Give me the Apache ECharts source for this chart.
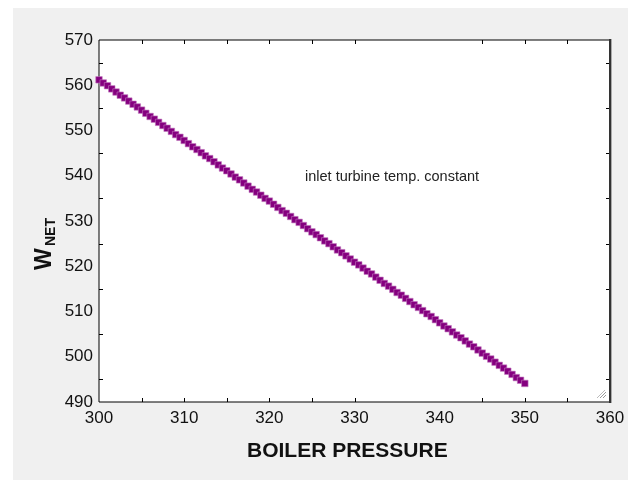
<!DOCTYPE html>
<html>
<head>
<meta charset="utf-8">
<script src="https://cdn.jsdelivr.net/npm/echarts@6/dist/echarts.min.js"></script>
<style>
  html, body { margin: 0; padding: 0; background: #ffffff; }
  #chart { width: 628px; height: 483px; }
</style>
</head>
<body>
<div id="chart"></div>
<script>
// Boiler pressure sweep (x) and net work output (y)
const boilerPressure = [
  300, 300.5, 301, 301.5, 302, 302.5, 303, 303.5, 304, 304.5,
  305, 305.5, 306, 306.5, 307, 307.5, 308, 308.5, 309, 309.5,
  310, 310.5, 311, 311.5, 312, 312.5, 313, 313.5, 314, 314.5,
  315, 315.5, 316, 316.5, 317, 317.5, 318, 318.5, 319, 319.5,
  320, 320.5, 321, 321.5, 322, 322.5, 323, 323.5, 324, 324.5,
  325, 325.5, 326, 326.5, 327, 327.5, 328, 328.5, 329, 329.5,
  330, 330.5, 331, 331.5, 332, 332.5, 333, 333.5, 334, 334.5,
  335, 335.5, 336, 336.5, 337, 337.5, 338, 338.5, 339, 339.5,
  340, 340.5, 341, 341.5, 342, 342.5, 343, 343.5, 344, 344.5,
  345, 345.5, 346, 346.5, 347, 347.5, 348, 348.5, 349, 349.5,
  350
];
const netWork = [
  561.2, 560.5, 559.9, 559.2, 558.5, 557.8, 557.2, 556.5, 555.8, 555.2,
  554.5, 553.8, 553.1, 552.5, 551.8, 551.1, 550.5, 549.8, 549.1, 548.5,
  547.8, 547.1, 546.4, 545.8, 545.1, 544.4, 543.8, 543.1, 542.4, 541.7,
  541.1, 540.4, 539.7, 539.1, 538.4, 537.7, 537.0, 536.4, 535.7, 535.0,
  534.4, 533.7, 533.0, 532.3, 531.7, 531.0, 530.3, 529.7, 529.0, 528.3,
  527.6, 527.0, 526.3, 525.6, 525.0, 524.3, 523.6, 523.0, 522.3, 521.6,
  520.9, 520.3, 519.6, 518.9, 518.3, 517.6, 516.9, 516.2, 515.6, 514.9,
  514.2, 513.6, 512.9, 512.2, 511.5, 510.9, 510.2, 509.5, 508.9, 508.2,
  507.5, 506.8, 506.2, 505.5, 504.8, 504.2, 503.5, 502.8, 502.2, 501.5,
  500.8, 500.1, 499.5, 498.8, 498.1, 497.5, 496.8, 496.1, 495.4, 494.8,
  494.1
];

// Axis ranges and inner tick marks
const xMin = 300, xMax = 360, xStep = 10;
const yMin = 490, yMax = 570, yStep = 10;
const xTickValues = [305, 310, 315, 320, 325, 330, 345, 350, 355];
const yTickValues = [495, 505, 515, 525, 535, 545, 555, 565];

const xAxisTitle = 'BOILER PRESSURE';
const yAxisTitleMain = 'W';
const yAxisTitleSub = 'NET';
const noteText = 'inlet turbine temp. constant';

const FONT = '"Liberation Sans", Arial, sans-serif';
const TICK_LEN = 4;

const chart = echarts.init(document.getElementById('chart'), null, { renderer: 'canvas' });

const points = boilerPressure.map((p, i) => [p, netWork[i]]);

chart.setOption({
  animation: false,
  backgroundColor: '#ffffff',
  graphic: [
    { type: 'rect', z: -10, shape: { x: 13, y: 8, width: 615, height: 472 }, style: { fill: '#f0f0f0' } },
    {
      type: 'text', left: 247, top: 441, z: 10,
      style: { text: xAxisTitle, font: 'bold 21px ' + FONT, fill: '#111' }
    },
    {
      type: 'text', x: 45, y: 270, rotation: Math.PI / 2, z: 10,
      style: { text: yAxisTitleMain, font: 'bold 23px ' + FONT, fill: '#111', textAlign: 'left', textVerticalAlign: 'middle' }
    },
    {
      type: 'text', x: 51, y: 246, rotation: Math.PI / 2, z: 10,
      style: { text: yAxisTitleSub, font: 'bold 14px ' + FONT, fill: '#111', textAlign: 'left', textVerticalAlign: 'middle' }
    },
    {
      type: 'text', left: 305, top: 169, z: 10,
      style: { text: noteText, font: '14.5px ' + FONT, fill: '#222' }
    },
    // heavier right frame edge
    { type: 'rect', z: 20, shape: { x: 609, y: 39, width: 2, height: 364 }, style: { fill: '#333' } },
    { type: 'rect', z: 20, shape: { x: 611, y: 39, width: 1, height: 364 }, style: { fill: '#aaa' } },
    // resize grip in the corner
    { type: 'line', z: 20, shape: { x1: 600, y1: 398, x2: 606, y2: 392 }, style: { stroke: '#999', lineWidth: 1 } },
    { type: 'line', z: 20, shape: { x1: 603, y1: 398, x2: 606, y2: 395 }, style: { stroke: '#999', lineWidth: 1 } },
    { type: 'line', z: 20, shape: { x1: 597, y1: 398, x2: 605, y2: 390 }, style: { stroke: '#bbb', lineWidth: 1 } }
  ],
  grid: {
    left: 99, top: 40, right: 18, bottom: 81,
    show: true, borderColor: '#000', borderWidth: 1, backgroundColor: '#ffffff'
  },
  xAxis: {
    type: 'value', min: xMin, max: xMax, interval: xStep,
    axisLine: { show: false }, axisTick: { show: false }, splitLine: { show: false },
    axisLabel: { color: '#111', fontSize: 17, fontFamily: FONT, margin: 8 }
  },
  yAxis: {
    type: 'value', min: yMin, max: yMax, interval: yStep,
    axisLine: { show: false }, axisTick: { show: false }, splitLine: { show: false },
    axisLabel: { color: '#111', fontSize: 17, fontFamily: FONT, margin: 6 }
  },
  series: [
    {
      type: 'custom',
      silent: true,
      data: xTickValues,
      renderItem: function (params, api) {
        const v = api.value(0);
        const b = api.coord([v, yMin]);
        const t = api.coord([v, yMax]);
        const x = Math.round(b[0]) + 0.5;
        return {
          type: 'group',
          children: [
            { type: 'line', shape: { x1: x, y1: b[1], x2: x, y2: b[1] - TICK_LEN }, style: { stroke: '#000', lineWidth: 1 } },
            { type: 'line', shape: { x1: x, y1: t[1], x2: x, y2: t[1] + TICK_LEN }, style: { stroke: '#000', lineWidth: 1 } }
          ]
        };
      },
      encode: { x: 0 },
      z: 5
    },
    {
      type: 'custom',
      silent: true,
      data: yTickValues.map(v => [xMin, v]),
      renderItem: function (params, api) {
        const v = api.value(1);
        const l = api.coord([xMin, v]);
        const r = api.coord([xMax, v]);
        const y = Math.round(l[1]) + 0.5;
        return {
          type: 'group',
          children: [
            { type: 'line', shape: { x1: l[0], y1: y, x2: l[0] + TICK_LEN, y2: y }, style: { stroke: '#000', lineWidth: 1 } },
            { type: 'line', shape: { x1: r[0], y1: y, x2: r[0] - TICK_LEN, y2: y }, style: { stroke: '#000', lineWidth: 1 } }
          ]
        };
      },
      encode: { x: 0, y: 1 },
      z: 5
    },
    {
      type: 'scatter',
      data: points,
      symbol: 'rect',
      symbolSize: 6.5,
      itemStyle: { color: '#85007f', borderColor: '#c27ac0', borderWidth: 0.6, opacity: 1 },
      z: 6
    }
  ]
});
</script>
</body>
</html>
